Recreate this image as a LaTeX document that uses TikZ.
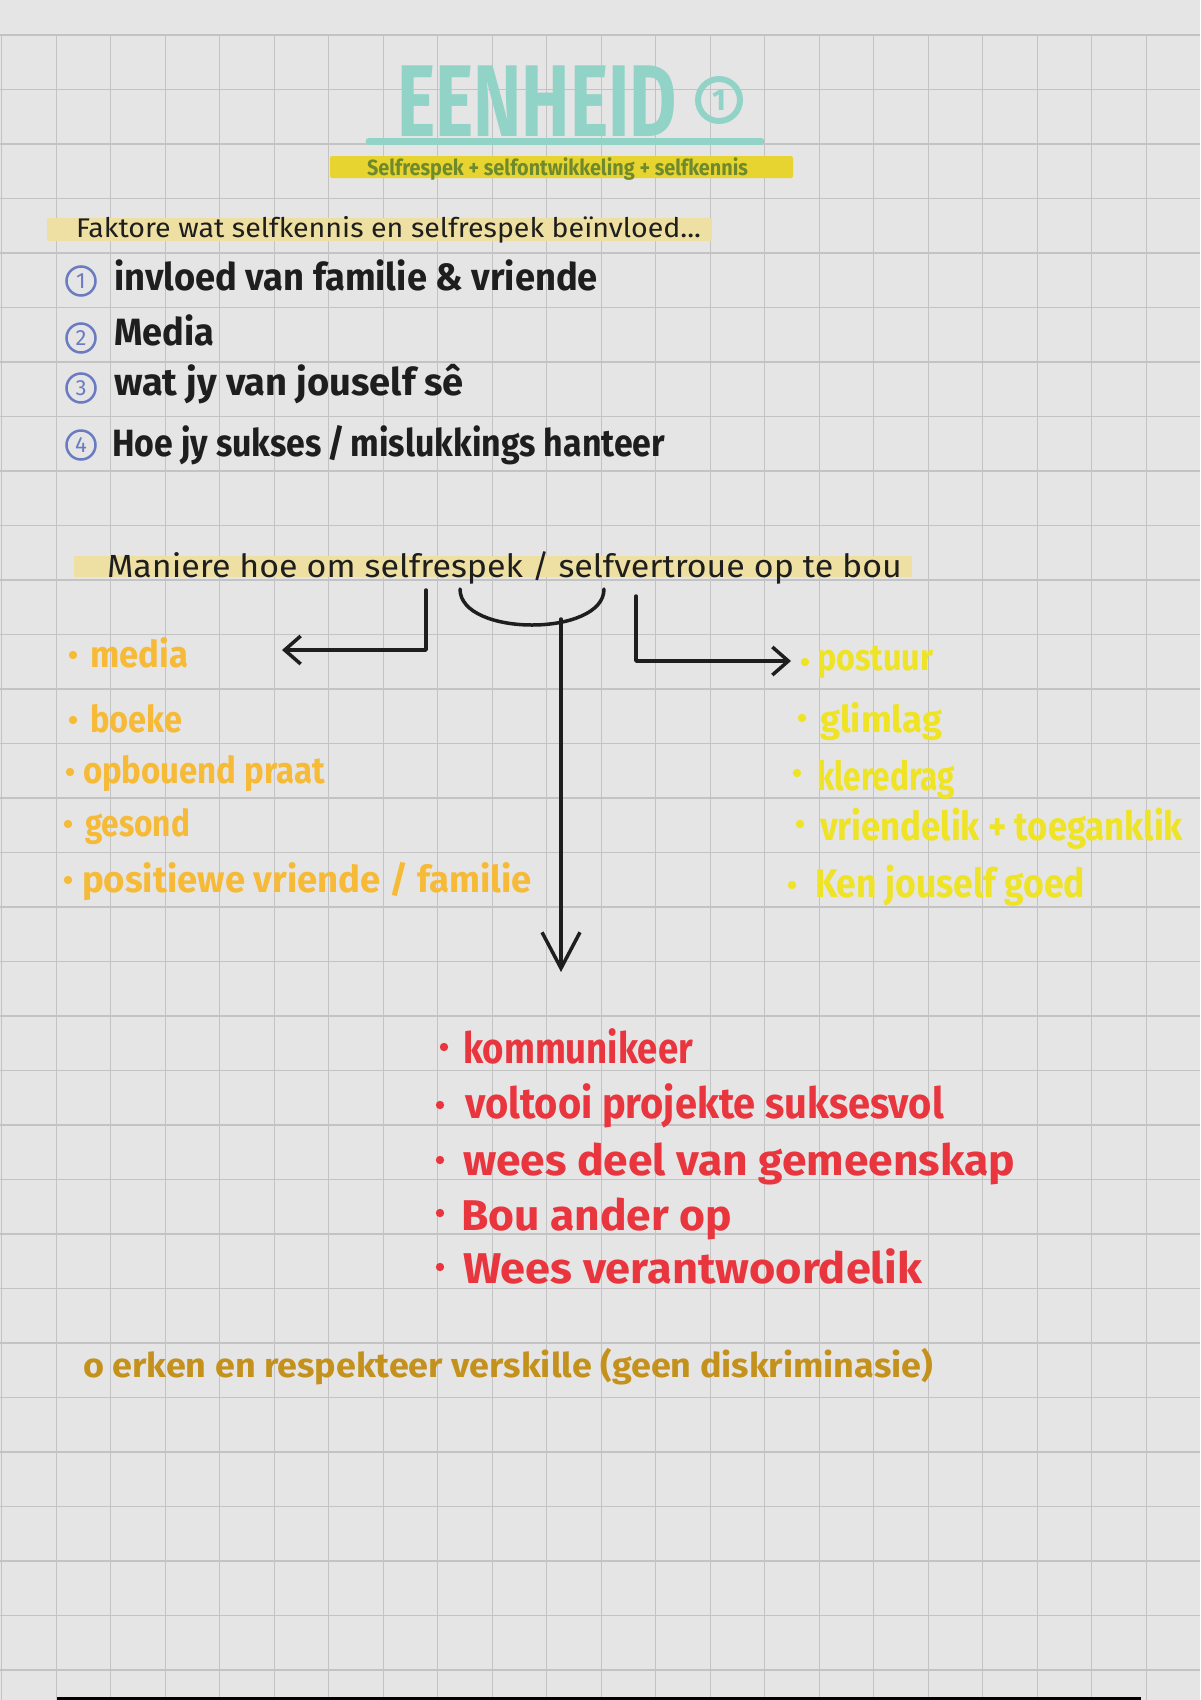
\documentclass[tikz,border=0pt]{standalone}
\usepackage{fontspec}
\usepackage{graphicx}
\setmainfont{Fira Sans}
\usetikzlibrary{arrows.meta}
\definecolor{bgc}{HTML}{E5E5E5}
\definecolor{gridc}{HTML}{C3C3C3}
\definecolor{tealc}{HTML}{92D3C7}
\definecolor{subbar}{HTML}{E8D431}
\definecolor{subtxt}{HTML}{6E8A2C}
\definecolor{pale}{HTML}{EEE0A3}
\definecolor{inkc}{HTML}{1E1E1E}
\definecolor{numblue}{HTML}{6B7BC2}
\definecolor{orangec}{HTML}{F6BA37}
\definecolor{yellowc}{HTML}{EFE325}
\definecolor{redc}{HTML}{E9353D}
\definecolor{brownc}{HTML}{C4921C}
\newcommand\fitw[3]{\resizebox{#1pt}{\height}{\fontsize{#2pt}{#2pt}\selectfont #3}}
\tikzset{
  txt/.style={inner sep=0pt, outer sep=0pt, anchor=base west},
  numc/.style={circle, draw=numblue, line width=2.5pt, minimum size=29pt, inner sep=0pt, text=numblue, font=\fontsize{22pt}{22pt}\selectfont},
  conn/.style={draw=inkc, line width=3.5pt, line cap=round, line join=round},
  dotc/.style={radius=4.2pt}
}
\begin{document}
\begin{tikzpicture}[x=1pt,y=-1pt]
\useasboundingbox (0,0) rectangle (1200,1700);
\fill[bgc] (0,0) rectangle (1200,1700);
% grid
\foreach \i in {0,...,21} \draw[gridc, line width=1.4pt] ({1.7+54.5*\i},35) -- ({1.7+54.5*\i},1700);
\foreach \j in {0,...,30} \draw[gridc, line width=1.4pt] (0,{35+54.5*\j}) -- (1200,{35+54.5*\j});

% title
\node[txt, text=tealc] (title) at (397,136) {\fitw{280}{102}{\bfseries EENHEID}};
\node[circle, draw=tealc, line width=6pt, minimum size=42pt, inner sep=0pt, text=tealc] (one) at (719,100) {\fontsize{30pt}{30pt}\selectfont\bfseries 1};
\draw[tealc, line width=7pt, line cap=round] (369,141) -- (761,141);
\fill[subbar, rounded corners=2pt] (330,156) rectangle (793,178);
\node[txt, text=subtxt] (sub) at (367,175) {\fitw{381}{22}{\bfseries Selfrespek + selfontwikkeling + selfkennis}};

% factors
\fill[pale] (47,218) rectangle (712,241);
\node[txt, text=inkc] (fak) at (76,237) {\fitw{625}{27}{Faktore wat selfkennis en selfrespek beïnvloed...}};
\node[numc] (n1) at (81,281) {1};
\node[numc] (n2) at (81,338) {2};
\node[numc] (n3) at (81,388) {3};
\node[numc] (n4) at (81,445) {4};
\node[txt, text=inkc] (i1) at (114,290) {\fitw{484}{38}{\bfseries invloed van familie \& vriende}};
\node[txt, text=inkc] (i2) at (114,345) {\fitw{100}{38}{\bfseries Media}};
\node[txt, text=inkc] (i3) at (114,395) {\fitw{350}{38}{\bfseries wat jy van jouself sê}};
\node[txt, text=inkc] (i4) at (112,456) {\fitw{553}{38}{\bfseries Hoe jy sukses\,/\,mislukkings hanteer}};

% ways
\fill[pale] (74,556) rectangle (912,577);
\node[txt, text=inkc] (man) at (107,577) {\fitw{795}{32}{Maniere hoe om selfrespek / selfvertroue op te bou}};

% connectors
\coordinate (lstart) at (426,590);
\coordinate (lend) at (282,650);
\coordinate (rstart) at (636,596);
\coordinate (rend) at (791,661);
\coordinate (arcL) at (460,589);
\coordinate (arcR) at (604,589);
\coordinate (stemtop) at (561,619);
\coordinate (stemend) at (561,972);
\draw[conn, -{Straight Barb[length=16pt,width=28pt]}] (lstart) |- (lend);
\draw[conn, -{Straight Barb[length=16pt,width=28pt]}] (rstart) |- (rend);
\draw[conn] (arcL) .. controls (460,637) and (604,637) .. (arcR);
\draw[conn, -{Straight Barb[length=36pt,width=38pt]}] (stemtop) -- (stemend);

% left list (orange)
\fill[orangec] (73,655) circle[dotc];
\node[txt, text=orangec] (l1) at (90,667) {\fitw{98}{37}{\bfseries media}};
\fill[orangec] (73,720) circle[dotc];
\node[txt, text=orangec] (l2) at (90,732) {\fitw{92}{37}{\bfseries boeke}};
\fill[orangec] (70,772) circle[dotc];
\node[txt, text=orangec] (l3) at (83,783) {\fitw{242}{37}{\bfseries opbouend praat}};
\fill[orangec] (68,824) circle[dotc];
\node[txt, text=orangec] (l4) at (85,836) {\fitw{105}{37}{\bfseries gesond}};
\fill[orangec] (68,880) circle[dotc];
\node[txt, text=orangec] (l5) at (82,892) {\fitw{450}{37}{\bfseries positiewe vriende / familie}};

% right list (yellow)
\fill[yellowc] (805,662) circle[dotc];
\node[txt, text=yellowc] (r1) at (817,670) {\fitw{116}{37}{\bfseries postuur}};
\fill[yellowc] (802,718) circle[dotc];
\node[txt, text=yellowc] (r2) at (820,732) {\fitw{122}{37}{\bfseries glimlag}};
\fill[yellowc] (797,773) circle[dotc];
\node[txt, text=yellowc] (r3) at (817,790) {\fitw{138}{40}{\bfseries kleredrag}};
\fill[yellowc] (800,824) circle[dotc];
\node[txt, text=yellowc] (r4) at (820,840) {\fitw{363}{40}{\bfseries vriendelik + toeganklik}};
\fill[yellowc] (792,885) circle[dotc];
\node[txt, text=yellowc] (r5) at (815,897) {\fitw{270}{40}{\bfseries Ken jouself goed}};

% centre list (red)
\fill[redc] (444,1047) circle[dotc];
\node[txt, text=redc] (c1) at (463,1063) {\fitw{230}{43}{\bfseries kommunikeer}};
\fill[redc] (440,1105) circle[dotc];
\node[txt, text=redc] (c2) at (465,1118) {\fitw{479}{43}{\bfseries voltooi projekte suksesvol}};
\fill[redc] (440,1160) circle[dotc];
\node[txt, text=redc] (c3) at (463,1175) {\fitw{552}{43}{\bfseries wees deel van gemeenskap}};
\fill[redc] (440,1213) circle[dotc];
\node[txt, text=redc] (c4) at (461,1230) {\fitw{271}{43}{\bfseries Bou ander op}};
\fill[redc] (440,1267) circle[dotc];
\node[txt, text=redc] (c5) at (463,1283) {\fitw{459}{43}{\bfseries Wees verantwoordelik}};

% bottom line
\node[txt, text=brownc] (b1) at (83,1377) {\fitw{850}{34}{\bfseries o erken en respekteer verskille (geen diskriminasie)}};

\draw[black, line width=3pt] (57,1698) -- (1141,1698);
\end{tikzpicture}
\end{document}
